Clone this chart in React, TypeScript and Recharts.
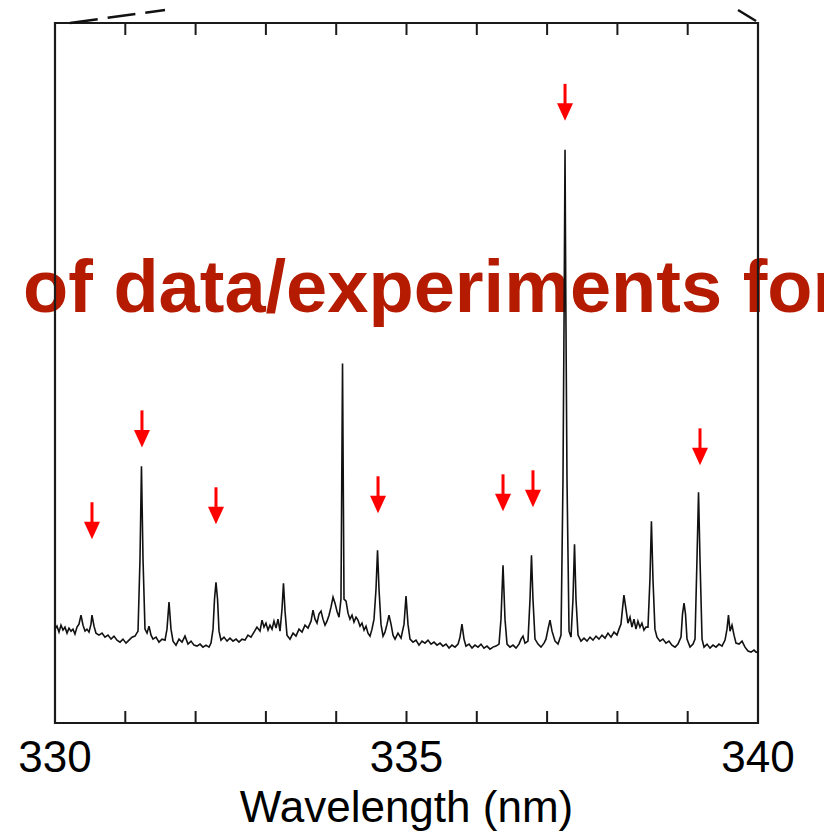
import {
  ComposedChart,
  Line,
  Scatter,
  XAxis,
  YAxis,
  ReferenceLine,
  ReferenceArea,
} from 'recharts'

// spectrum: wavelength (nm) and intensity (arb. counts)
const WAVELENGTH = [
  330.0, 330.028, 330.057, 330.085, 330.114, 330.142, 330.171, 330.199, 330.228, 330.256,
  330.284, 330.313, 330.341, 330.37, 330.398, 330.427, 330.455, 330.484, 330.512, 330.526,
  330.555, 330.583, 330.626, 330.669, 330.711, 330.754, 330.797, 330.839, 330.882, 330.925,
  330.967, 331.01, 331.053, 331.095, 331.138, 331.181, 331.209, 331.23, 331.252, 331.28,
  331.309, 331.337, 331.366, 331.394, 331.437, 331.479, 331.522, 331.565, 331.593, 331.622,
  331.65, 331.679, 331.721, 331.764, 331.807, 331.849, 331.892, 331.935, 331.977, 332.02,
  332.063, 332.105, 332.148, 332.191, 332.219, 332.248, 332.269, 332.29, 332.312, 332.333,
  332.361, 332.404, 332.447, 332.489, 332.532, 332.575, 332.617, 332.66, 332.703, 332.745,
  332.788, 332.831, 332.873, 332.916, 332.945, 332.973, 333.001, 333.03, 333.058, 333.087,
  333.115, 333.144, 333.172, 333.201, 333.229, 333.25, 333.272, 333.3, 333.343, 333.386,
  333.428, 333.471, 333.514, 333.556, 333.599, 333.642, 333.67, 333.699, 333.727, 333.755,
  333.784, 333.812, 333.841, 333.869, 333.898, 333.926, 333.955, 333.983, 334.011, 334.04,
  334.068, 334.09, 334.111, 334.14, 334.168, 334.196, 334.225, 334.253, 334.282, 334.31,
  334.339, 334.367, 334.396, 334.424, 334.452, 334.481, 334.509, 334.538, 334.566, 334.588,
  334.609, 334.637, 334.666, 334.694, 334.723, 334.751, 334.78, 334.808, 334.837, 334.879,
  334.922, 334.965, 334.993, 335.021, 335.05, 335.093, 335.135, 335.178, 335.221, 335.263,
  335.306, 335.349, 335.391, 335.434, 335.477, 335.519, 335.562, 335.605, 335.647, 335.69,
  335.733, 335.761, 335.789, 335.818, 335.846, 335.889, 335.932, 335.974, 336.017, 336.06,
  336.102, 336.145, 336.188, 336.23, 336.273, 336.316, 336.344, 336.373, 336.401, 336.43,
  336.472, 336.515, 336.558, 336.6, 336.629, 336.657, 336.686, 336.728, 336.757, 336.778,
  336.799, 336.828, 336.871, 336.913, 336.956, 336.984, 337.013, 337.041, 337.07, 337.113,
  337.155, 337.198, 337.226, 337.243, 337.255, 337.266, 337.283, 337.312, 337.34, 337.368,
  337.39, 337.411, 337.44, 337.482, 337.525, 337.568, 337.61, 337.653, 337.696, 337.738,
  337.781, 337.824, 337.866, 337.909, 337.952, 337.994, 338.023, 338.051, 338.072, 338.093,
  338.122, 338.15, 338.179, 338.207, 338.236, 338.264, 338.292, 338.321, 338.349, 338.378,
  338.406, 338.435, 338.463, 338.484, 338.506, 338.534, 338.563, 338.605, 338.648, 338.691,
  338.733, 338.776, 338.82, 338.862, 338.905, 338.926, 338.948, 338.969, 338.99, 339.033,
  339.076, 339.104, 339.132, 339.154, 339.175, 339.204, 339.232, 339.275, 339.317, 339.36,
  339.403, 339.445, 339.488, 339.531, 339.559, 339.58, 339.602, 339.63, 339.659, 339.687,
  339.73, 339.773, 339.815, 339.858, 339.901, 339.943, 339.972, 340.0,
]

const INTENSITY = [
  94, 97, 91, 98, 93, 96, 90, 95, 92, 94,
  89, 96, 99, 108, 98, 92, 94, 91, 99, 108,
  97, 90, 88, 90, 86, 88, 84, 87, 83, 81,
  84, 80, 83, 86, 87, 92, 164, 257, 164, 94,
  90, 97, 88, 84, 86, 81, 84, 83, 94, 121,
  94, 82, 78, 84, 81, 87, 79, 82, 78, 77,
  79, 76, 78, 76, 80, 94, 124, 141, 124, 92,
  83, 86, 82, 85, 82, 84, 81, 84, 83, 88,
  86, 91, 96, 92, 103, 96, 100, 93, 98, 94,
  102, 95, 104, 92, 114, 140, 112, 88, 84, 90,
  87, 94, 91, 98, 95, 102, 113, 104, 100, 109,
  112, 104, 98, 102, 108, 116, 126, 120, 112, 106,
  124, 360, 124, 122, 110, 104, 108, 101, 106, 103,
  97, 100, 93, 97, 90, 87, 94, 104, 134, 173,
  134, 99, 87, 91, 99, 108, 99, 88, 84, 90,
  85, 99, 127, 99, 84, 81, 83, 78, 82, 80,
  83, 79, 81, 78, 80, 77, 79, 75, 78, 76,
  79, 86, 99, 84, 77, 79, 75, 78, 76, 79,
  75, 77, 74, 76, 77, 79, 104, 158, 104, 79,
  76, 78, 75, 79, 84, 87, 80, 82, 124, 168,
  124, 84, 79, 76, 80, 84, 94, 103, 92, 82,
  79, 88, 244, 424, 574, 424, 244, 92, 86, 124,
  179, 124, 88, 82, 85, 82, 86, 83, 87, 84,
  88, 85, 90, 86, 91, 88, 94, 99, 114, 128,
  114, 100, 106, 96, 104, 94, 102, 96, 100, 93,
  96, 96, 144, 202, 144, 94, 86, 82, 84, 80,
  82, 78, 76, 79, 86, 109, 120, 109, 84, 76,
  79, 84, 164, 231, 164, 84, 76, 79, 75, 78,
  76, 79, 77, 83, 94, 108, 92, 98, 88, 80,
  79, 82, 76, 72, 71, 73, 71, 71,
]

// red markers above the identified lines
const ARROW_WL = [330.526, 331.237, 332.29, 334.595, 336.373, 336.799, 337.255, 339.175]
const ARROW_TIP = [184, 276, 199, 210, 212, 216, 603, 258]

const X_TICKS = [330, 335, 340]
const MINOR_TICKS = [331, 332, 333, 334, 335, 336, 337, 338, 339]
const Y_MAX = 701
const TICK_LEN = 12

// bits of the zoom-guide lines from the panel above
const GUIDE_LEFT = [
  { x: 330.213, y: 701 },
  { x: 331.565, y: 714 },
]
const GUIDE_RIGHT = [
  { x: 339.716, y: 714 },
  { x: 339.972, y: 703 },
]

const OVERLAY_TEXT = 'of data/experiments for'
const FONT = '"Liberation Sans", Arial, Helvetica, sans-serif'

const spectrum = WAVELENGTH.map((wl, i) => ({ wl, intensity: INTENSITY[i] }))
const arrows = ARROW_WL.map((wl, i) => ({ wl, intensity: ARROW_TIP[i] }))

function Arrow(props: any) {
  const { cx, cy } = props
  if (cx == null || cy == null) return null
  return (
    <g>
      <rect x={cx - 1.5} y={cy - 37} width={3} height={21} fill="#ff0000" />
      <polygon
        points={`${cx - 8},${cy - 17.5} ${cx + 8},${cy - 17.5} ${cx},${cy}`}
        fill="#ff0000"
      />
    </g>
  )
}

export default function App() {
  return (
    <div
      style={{
        position: 'absolute',
        left: 0,
        top: 0,
        width: 824,
        height: 831,
        overflow: 'hidden',
        background: '#fff',
      }}
    >
      <svg
        width={824}
        height={831}
        style={{ position: 'absolute', left: 0, top: 0 }}
      >
        <text
          x={23}
          y={312}
          fontFamily={FONT}
          fontWeight="bold"
          fontSize={74}
          fill="#b41b00"
        >
          {OVERLAY_TEXT}
        </text>
      </svg>
      <div style={{ position: 'absolute', left: 0, top: 0 }}>
        <ComposedChart
          width={824}
          height={831}
          data={spectrum}
          margin={{ top: 23, right: 66, bottom: 0, left: 55 }}
        >
          <XAxis
            dataKey="wl"
            type="number"
            domain={[330, 340]}
            allowDataOverflow
            ticks={X_TICKS}
            interval={0}
            tickLine={false}
            axisLine={false}
            tickSize={8}
            tickMargin={10}
            height={108}
            tick={{ fontSize: 44, fill: '#000', fontFamily: FONT }}
            label={{
              value: 'Wavelength (nm)',
              position: 'insideBottom',
              offset: 9,
              fontSize: 44,
              fill: '#000',
              fontFamily: FONT,
            }}
          />
          <YAxis type="number" domain={[0, Y_MAX]} allowDataOverflow hide />
          <ReferenceArea
            x1={330}
            x2={340}
            y1={0}
            y2={Y_MAX}
            fill="none"
            fillOpacity={0}
            stroke="#1a1a1a"
            strokeWidth={2.2}
            ifOverflow="visible"
          />
          {MINOR_TICKS.map((t) => (
            <ReferenceLine
              key={`b${t}`}
              segment={[
                { x: t, y: 0 },
                { x: t, y: TICK_LEN },
              ]}
              stroke="#1a1a1a"
              strokeWidth={2}
            />
          ))}
          {MINOR_TICKS.map((t) => (
            <ReferenceLine
              key={`t${t}`}
              segment={[
                { x: t, y: Y_MAX },
                { x: t, y: Y_MAX - TICK_LEN },
              ]}
              stroke="#1a1a1a"
              strokeWidth={2}
            />
          ))}
          <ReferenceLine
            segment={GUIDE_LEFT}
            stroke="#111"
            strokeWidth={2.5}
            strokeDasharray="28 10"
            ifOverflow="visible"
          />
          <ReferenceLine
            segment={GUIDE_RIGHT}
            stroke="#111"
            strokeWidth={2.5}
            ifOverflow="visible"
          />
          <Line
            type="linear"
            dataKey="intensity"
            stroke="#111"
            strokeWidth={1.6}
            dot={false}
            activeDot={false}
            isAnimationActive={false}
          />
          <Scatter
            data={arrows}
            dataKey="intensity"
            shape={Arrow}
            isAnimationActive={false}
          />
        </ComposedChart>
      </div>
    </div>
  )
}
